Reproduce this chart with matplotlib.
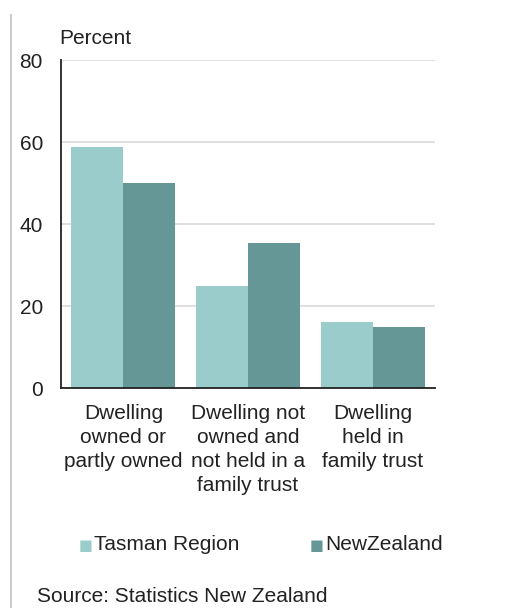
import matplotlib
matplotlib.use('Agg')
import matplotlib.pyplot as plt
from matplotlib.lines import Line2D
import numpy as np

plt.rcParams['font.family'] = ['Liberation Sans', 'DejaVu Sans']

categories = ['Dwelling\nowned or\npartly owned',
              'Dwelling not\nowned and\nnot held in a\nfamily trust',
              'Dwelling\nheld in\nfamily trust']
tasman = [58.7, 25.0, 16.2]
nz = [49.9, 35.3, 14.8]
series_names = ['Tasman Region', 'NewZealand']
yticks = [0, 20, 40, 60, 80]

c_tasman = '#9bcccc'
c_nz = '#669797'
txt = '#222222'
fs = 15

fig = plt.figure(figsize=(5.05, 6.08), dpi=100)
ax = fig.add_axes([61 / 505, 1 - 388 / 608, 374 / 505, 328 / 608])

x = np.arange(len(categories))
w = 0.418
ax.bar(x - w / 2, tasman, w, color=c_tasman, zorder=3)
ax.bar(x + w / 2, nz, w, color=c_nz, zorder=3)

ax.set_xlim(-0.5, 2.5)
ax.set_ylim(0, 80)
ax.set_yticks(yticks)
ax.set_yticklabels([str(t) for t in yticks], fontsize=fs, color=txt)
ax.yaxis.grid(True, color='#d9d9d9', linewidth=1.2, zorder=0)
ax.tick_params(axis='y', length=0, pad=13)
ax.tick_params(axis='x', length=0)
ax.set_xticks([])
for s in ['top', 'right']:
    ax.spines[s].set_visible(False)
for s in ['left', 'bottom']:
    ax.spines[s].set_color('#222222')
    ax.spines[s].set_linewidth(1.3)
    ax.spines[s].set_zorder(4)

# category labels under the axis
for i, lab in enumerate(categories):
    ax.text(i, -4.0, lab, ha='center', va='top', fontsize=fs, color=txt,
            linespacing=1.32, transform=ax.transData)

fig.text(59 / 505, 1 - 38 / 608, 'Percent', ha='left', va='center',
         fontsize=fs, color=txt)

# legend
fig.text(79 / 505, 1 - 545 / 608, '\u25a0', color=c_tasman, fontsize=10.5,
         ha='left', va='center', family='DejaVu Sans')
fig.text(94 / 505, 1 - 545 / 608, series_names[0], fontsize=fs, color=txt,
         ha='left', va='center')
fig.text(310 / 505, 1 - 545 / 608, '\u25a0', color=c_nz, fontsize=10.5,
         ha='left', va='center', family='DejaVu Sans')
fig.text(325 / 505, 1 - 545 / 608, series_names[1], fontsize=fs, color=txt,
         ha='left', va='center')

fig.text(37 / 505, 1 - 596 / 608, 'Source: Statistics New Zealand',
         fontsize=fs, color=txt, ha='left', va='center')

# grey frame line on the left
fig.add_artist(Line2D([11 / 505, 11 / 505], [0, 1 - 15 / 608],
                      transform=fig.transFigure, color='#cccccc', linewidth=1.5))

fig.savefig('out.png', dpi=100)
